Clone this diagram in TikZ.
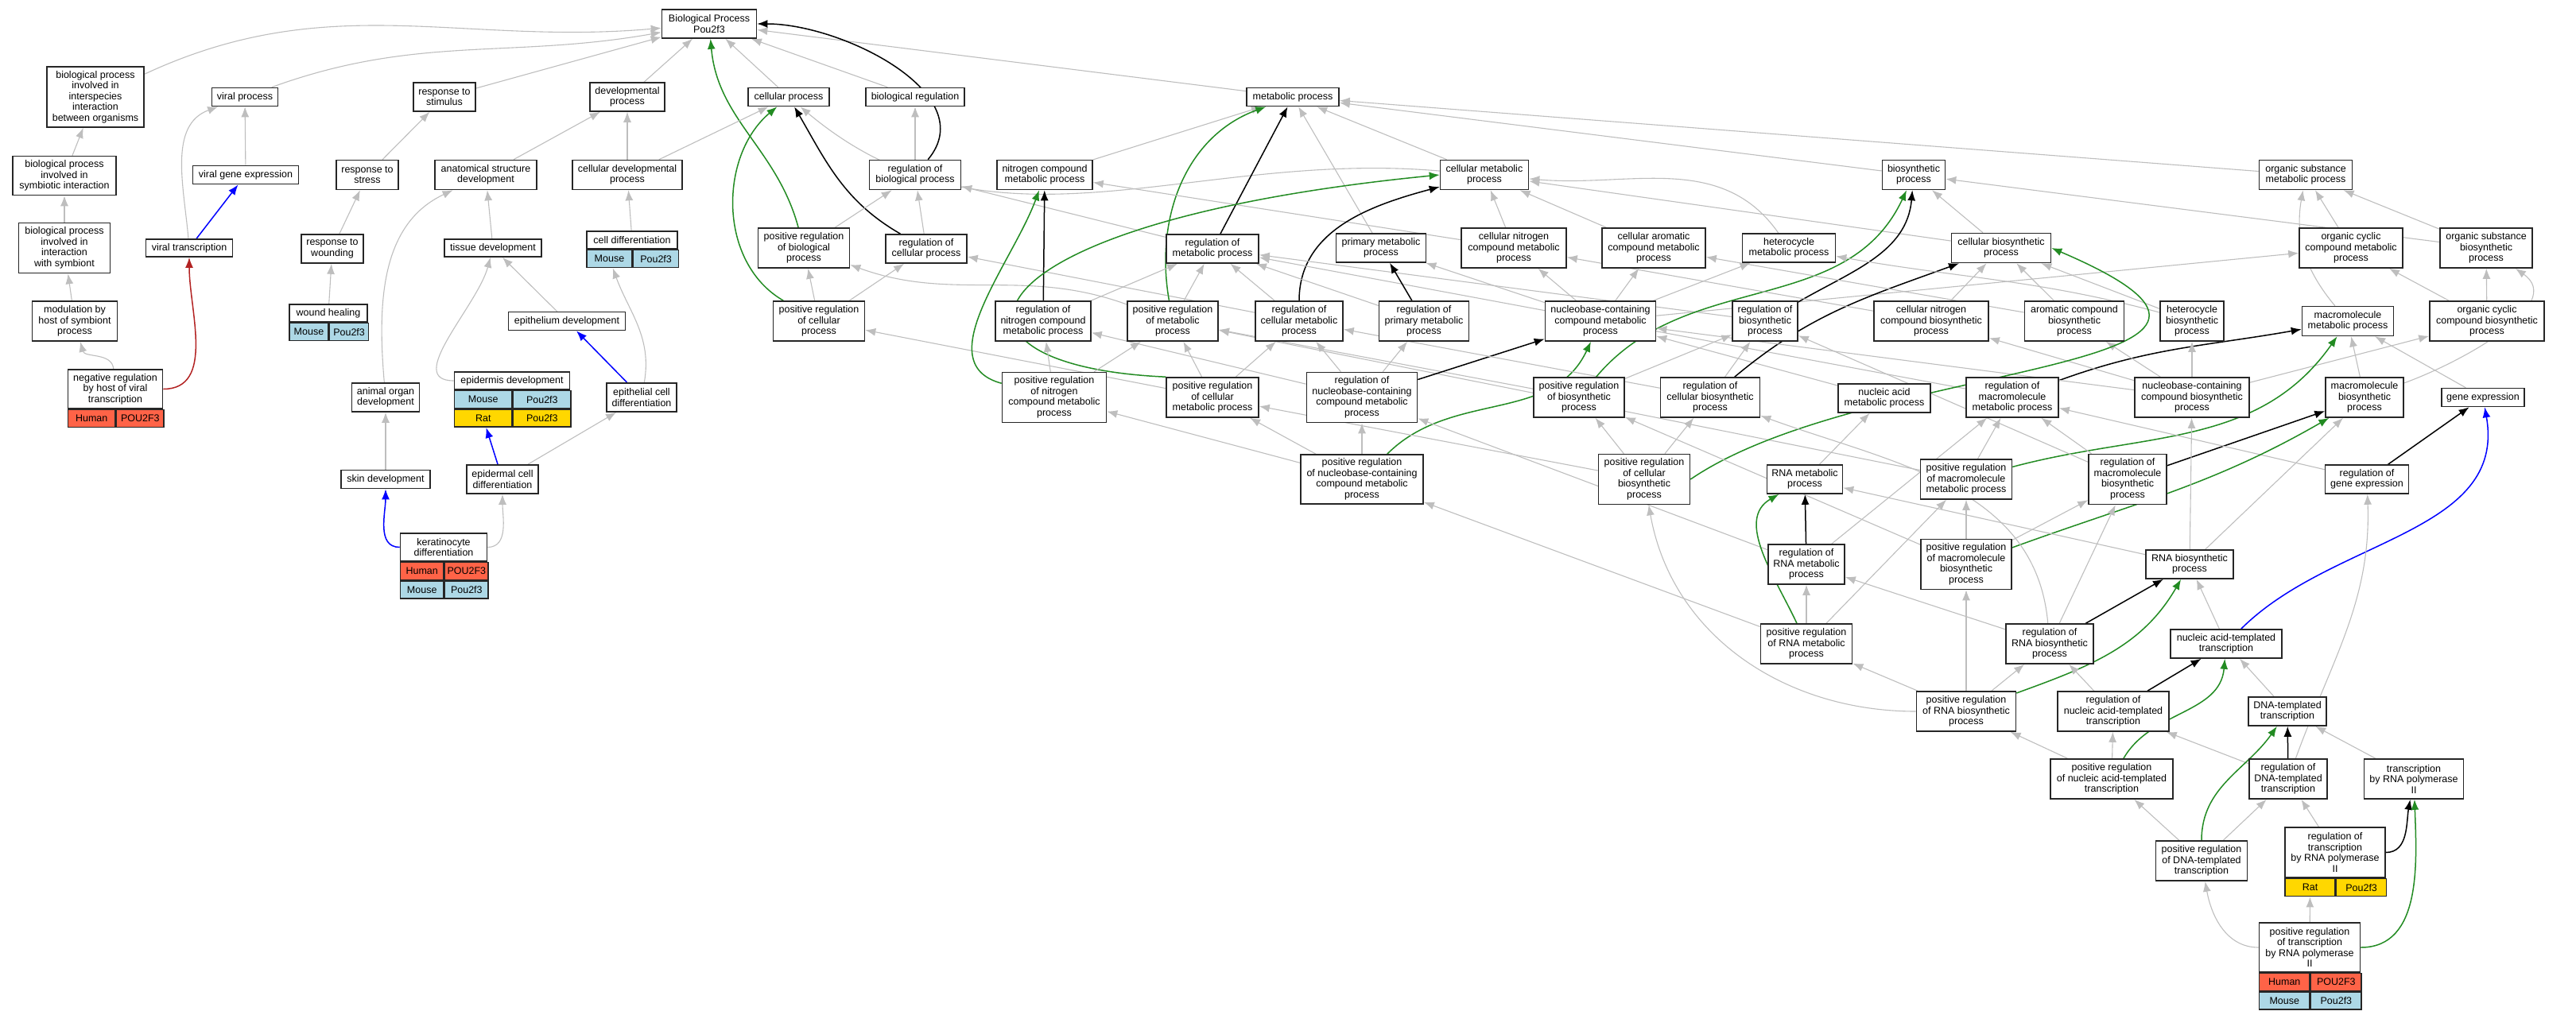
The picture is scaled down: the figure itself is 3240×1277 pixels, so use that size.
\documentclass[tikz,border=0pt]{standalone}
\usepackage{fontspec}
\setmainfont{Liberation Sans}
\usetikzlibrary{arrows.meta,backgrounds}
\definecolor{isagray}{RGB}{190,190,190}
\definecolor{posgreen}{RGB}{34,139,34}
\definecolor{negred}{RGB}{178,34,34}
\definecolor{human}{RGB}{255,99,71}
\definecolor{mouse}{RGB}{173,216,230}
\definecolor{rat}{RGB}{255,215,0}
\newcommand{\gofont}{\fontsize{12.5}{13.5}\selectfont}
\tikzset{
  term/.style={draw=black!85, line width=1.6pt, fill=white, align=center, inner sep=0pt, font=\gofont},
  box/.style 2 args={term, minimum width=#1, minimum height=#2},
  cell/.style={draw=black!85, line width=1.6pt, inner sep=0pt, minimum height=22, anchor=north west, font=\gofont},
  isa/.style={->, draw=isagray, line width=1.1pt},
  reg/.style={->, draw=black, line width=1.5pt},
  posreg/.style={->, draw=posgreen, line width=1.5pt},
  negedge/.style={->, draw=negred, line width=1.5pt},
  partedge/.style={->, draw=blue, line width=1.5pt}
}
\begin{document}
\begin{tikzpicture}[x=1pt, y=1pt, >={Latex[length=13pt,width=10pt]}]
\useasboundingbox (0,0) rectangle (3240,-1277);

\node[box={119}{36}] (BP) at (892,-30) {Biological Process\\Pou2f3};

\node[box={122}{76}] (bpi) at (120,-122) {biological process\\involved in\\interspecies\\interaction\\between organisms};
\node[box={83}{23}] (vp) at (308,-122) {viral process};
\node[box={78}{36}] (rstim) at (559,-122) {response to\\stimulus};
\node[box={94}{36}] (devp) at (789,-122) {developmental\\process};
\node[box={102}{23}] (cellp) at (992,-122) {cellular process};
\node[box={124}{23}] (bioreg) at (1151,-122) {biological regulation};
\node[box={116}{23}] (metp) at (1626,-122) {metabolic process};

\node[box={130}{49}] (bpsym) at (81,-221) {biological process\\involved in\\symbiotic interaction};
\node[box={133}{23}] (vge) at (309,-220) {viral gene expression};
\node[box={78}{37}] (rstress) at (462,-220) {response to\\stress};
\node[box={128}{37}] (asd) at (611,-220) {anatomical structure\\development};
\node[box={138}{37}] (cdp) at (789,-220) {cellular developmental\\process};
\node[box={115}{37}] (rbp) at (1151,-220) {regulation of\\biological process};
\node[box={120}{37}] (ncmp) at (1314,-220) {nitrogen compound\\metabolic process};
\node[box={111}{37}] (cmp) at (1867,-220) {cellular metabolic\\process};
\node[box={79}{37}] (biosp) at (2407,-220) {biosynthetic\\process};
\node[box={117}{37}] (osmp) at (2900,-220) {organic substance\\metabolic process};

\node[box={115}{63}] (bpint) at (81,-312) {biological process\\involved in\\interaction\\with symbiont};
\node[box={109}{22}] (vt) at (238,-312) {viral transcription};
\node[box={78}{36}] (rwound) at (418,-313) {response to\\wounding};
\node[box={122}{22}] (tissue) at (620,-312) {tissue development};
\node[box={114}{22}] (celldiff) at (795,-302) {cell differentiation};
\node[cell, fill=mouse, minimum width=57] (celldiff-m1) at (celldiff.south west) {Mouse};
\node[cell, fill=mouse, minimum width=57] (celldiff-m2) at (celldiff-m1.north east) {Pou2f3};
\node[box={115}{50}] (prbp) at (1011,-312) {positive regulation\\of biological\\process};
\node[box={102}{36}] (rcp) at (1165,-313) {regulation of\\cellular process};
\node[box={116}{36}] (rmp) at (1525,-313) {regulation of\\metabolic process};
\node[box={113}{36}] (pmp) at (1737,-312) {primary metabolic\\process};
\node[box={132}{50}] (cncmp) at (1904,-312) {cellular nitrogen\\compound metabolic\\process};
\node[box={130}{50}] (camp) at (2080,-312) {cellular aromatic\\compound metabolic\\process};
\node[box={117}{36}] (hmp) at (2250,-312) {heterocycle\\metabolic process};
\node[box={125}{37}] (cbp) at (2517,-312) {cellular biosynthetic\\process};
\node[box={130}{50}] (occmp) at (2957,-312) {organic cyclic\\compound metabolic\\process};
\node[box={116}{50}] (osbp) at (3127,-312) {organic substance\\biosynthetic\\process};

\node[box={107}{50}] (mod) at (94,-404) {modulation by\\host of symbiont\\process};
\node[box={98}{22}] (wound) at (413,-394) {wound healing};
\node[cell, fill=mouse, minimum width=49] (wound-m1) at (wound.south west) {Mouse};
\node[cell, fill=mouse, minimum width=49] (wound-m2) at (wound-m1.north east) {Pou2f3};
\node[box={147}{23}] (epith) at (713,-404) {epithelium development};
\node[box={115}{50}] (prcp) at (1030,-404) {positive regulation\\of cellular\\process};
\node[box={120}{50}] (rncmp) at (1312,-404) {regulation of\\nitrogen compound\\metabolic process};
\node[box={114}{50}] (prmp) at (1475,-404) {positive regulation\\of metabolic\\process};
\node[box={110}{50}] (rcmp) at (1634,-404) {regulation of\\cellular metabolic\\process};
\node[box={113}{50}] (rpmp) at (1791,-404) {regulation of\\primary metabolic\\process};
\node[box={139}{50}] (ncbmp) at (2013,-404) {nucleobase-containing\\compound metabolic\\process};
\node[box={82}{50}] (rbsp) at (2220,-404) {regulation of\\biosynthetic\\process};
\node[box={144}{50}] (cncbp) at (2429,-404) {cellular nitrogen\\compound biosynthetic\\process};
\node[box={125}{50}] (acbp) at (2609,-404) {aromatic compound\\biosynthetic\\process};
\node[box={80}{50}] (hbp) at (2757,-404) {heterocycle\\biosynthetic\\process};
\node[box={115}{37}] (mmp) at (2953,-404) {macromolecule\\metabolic process};
\node[box={144}{50}] (occbp) at (3128,-404) {organic cyclic\\compound biosynthetic\\process};

\node[box={119}{49}] (negreg) at (145,-489.5) {negative regulation\\by host of viral\\transcription};
\node[cell, fill=human, minimum width=59.5] (negreg-h1) at (negreg.south west) {Human};
\node[cell, fill=human, minimum width=59.5] (negreg-h2) at (negreg-h1.north east) {POU2F3};
\node[box={85}{36}] (aod) at (485,-500) {animal organ\\development};
\node[box={145}{22}] (epid) at (644,-479) {epidermis development};
\node[cell, fill=mouse, minimum width=72.5] (epid-m1) at (epid.south west) {Mouse};
\node[cell, fill=mouse, minimum width=72.5] (epid-m2) at (epid-m1.north east) {Pou2f3};
\node[cell, fill=rat, minimum width=72.5] (epid-r1) at (epid-m1.south west) {Rat};
\node[cell, fill=rat, minimum width=72.5] (epid-r2) at (epid-r1.north east) {Pou2f3};
\node[box={88}{36}] (ecd) at (807,-500) {epithelial cell\\differentiation};
\node[box={131}{63}] (prncmp) at (1326,-500) {positive regulation\\of nitrogen\\compound metabolic\\process};
\node[box={116}{50}] (prcmp) at (1525,-500) {positive regulation\\of cellular\\metabolic process};
\node[box={139}{63}] (rncbmp) at (1713,-500) {regulation of\\nucleobase-containing\\compound metabolic\\process};
\node[box={114}{50}] (prbsp) at (1986,-500) {positive regulation\\of biosynthetic\\process};
\node[box={125}{50}] (rcbp) at (2151,-500) {regulation of\\cellular biosynthetic\\process};
\node[box={116}{36}] (namp) at (2370,-501) {nucleic acid\\metabolic process};
\node[box={116}{50}] (rmmp) at (2531,-500) {regulation of\\macromolecule\\metabolic process};
\node[box={144}{50}] (ncbbp) at (2757,-500) {nucleobase-containing\\compound biosynthetic\\process};
\node[box={98}{50}] (mbp) at (2974,-500) {macromolecule\\biosynthetic\\process};
\node[box={104}{23}] (ge) at (3123,-500) {gene expression};

\node[box={112}{23}] (skin) at (485,-603) {skin development};
\node[box={90}{36}] (edc) at (632,-603) {epidermal cell\\differentiation};
\node[box={154}{62}] (prncbmp) at (1713,-603) {positive regulation\\of nucleobase-containing\\compound metabolic\\process};
\node[box={115}{63}] (prcbp) at (2068,-603) {positive regulation\\of cellular\\biosynthetic\\process};
\node[box={95}{36}] (rnamp) at (2270,-603) {RNA metabolic\\process};
\node[box={115}{50}] (prmmp) at (2473,-603) {positive regulation\\of macromolecule\\metabolic process};
\node[box={98}{63}] (rmbp) at (2676,-603) {regulation of\\macromolecule\\biosynthetic\\process};
\node[box={105}{36}] (rge) at (2977,-603) {regulation of\\gene expression};

\node[box={109}{35}] (kera) at (558,-688.5) {keratinocyte\\differentiation};
\node[cell, fill=human, minimum width=54.5] (kera-h1) at (kera.south west) {Human};
\node[cell, fill=human, minimum width=54.5] (kera-h2) at (kera-h1.north east) {POU2F3};
\node[cell, fill=mouse, minimum width=54.5] (kera-m1) at (kera-h1.south west) {Mouse};
\node[cell, fill=mouse, minimum width=54.5] (kera-m2) at (kera-m1.north east) {Pou2f3};
\node[box={96}{50}] (rrnamp) at (2272,-710) {regulation of\\RNA metabolic\\process};
\node[box={114}{63}] (prmbp) at (2473,-710) {positive regulation\\of macromolecule\\biosynthetic\\process};
\node[box={110}{36}] (rnabp) at (2754,-710) {RNA biosynthetic\\process};

\node[box={115}{50}] (prrnamp) at (2272,-810) {positive regulation\\of RNA metabolic\\process};
\node[box={110}{50}] (rrnabp) at (2578,-810) {regulation of\\RNA biosynthetic\\process};
\node[box={140}{36}] (nat) at (2800,-810) {nucleic acid-templated\\transcription};

\node[box={125}{50}] (prrnabp) at (2473,-895) {positive regulation\\of RNA biosynthetic\\process};
\node[box={140}{50}] (rnat) at (2658,-895) {regulation of\\nucleic acid-templated\\transcription};
\node[box={98}{36}] (dnat) at (2877,-895) {DNA-templated\\transcription};

\node[box={154}{50}] (prnat) at (2656,-980) {positive regulation\\of nucleic acid-templated\\transcription};
\node[box={98}{50}] (rdnat) at (2878,-980) {regulation of\\DNA-templated\\transcription};
\node[box={125}{50}] (trp2) at (3036,-980) {transcription\\by RNA polymerase\\II};

\node[box={115}{50}] (prdnat) at (2769,-1083) {positive regulation\\of DNA-templated\\transcription};
\node[box={126}{63}] (rtrp2) at (2937,-1072.5) {regulation of\\transcription\\by RNA polymerase\\II};
\node[cell, fill=rat, minimum width=63] (rtrp2-r1) at (rtrp2.south west) {Rat};
\node[cell, fill=rat, minimum width=63] (rtrp2-r2) at (rtrp2-r1.north east) {Pou2f3};

\node[box={127}{62}] (prtrp2) at (2905,-1192) {positive regulation\\of transcription\\by RNA polymerase\\II};
\node[cell, fill=human, minimum width=63.5] (prtrp2-h1) at (prtrp2.south west) {Human};
\node[cell, fill=human, minimum width=63.5] (prtrp2-h2) at (prtrp2-h1.north east) {POU2F3};
\node[cell, fill=mouse, minimum width=63.5] (prtrp2-m1) at (prtrp2-h1.south west) {Mouse};
\node[cell, fill=mouse, minimum width=63.5] (prtrp2-m2) at (prtrp2-m1.north east) {Pou2f3};

\begin{pgfonlayer}{background}
\draw[isa] (bpi) to[out=25,in=185] (BP);
\draw[isa] (vp) to[out=20,in=190] (BP);
\draw[isa] (rstim) -- (BP);
\draw[isa] (devp) -- (BP);
\draw[isa] (cellp) -- (BP);
\draw[isa] (bioreg) -- (BP);
\draw[isa] (metp) -- (BP);
\draw[reg] (rbp) to[out=50,in=0] (BP);
\draw[posreg] (prbp) to[out=105,in=-85] (BP);

\draw[isa] (bpsym) -- (bpi);
\draw[isa] (bpint) -- (bpsym);
\draw[isa] (mod) -- (bpint);
\draw[isa] (negreg) to[out=95,in=-75] (mod);
\draw[negedge] (negreg) to[out=0,in=-90] (vt);
\draw[isa] (vge) -- (vp);
\draw[isa] (vt) to[out=95,in=-160] (vp);
\draw[partedge] (vt) -- (vge);
\draw[isa] (rstress) -- (rstim);
\draw[isa] (rwound) -- (rstress);
\draw[isa] (wound) -- (rwound);
\draw[isa] (asd) -- (devp);
\draw[isa] (cdp) -- (devp);
\draw[isa] (tissue) -- (asd);
\draw[isa] (aod) to[out=95,in=-155] (asd);
\draw[isa] (epith) -- (tissue);
\draw[isa] (epid) to[out=180,in=-105] (tissue);
\draw[isa] (celldiff) -- (cdp);
\draw[partedge] (ecd) -- (epith);
\draw[isa] (ecd) to[out=80,in=-70] (celldiff-m1);
\draw[isa] (skin) -- (aod);
\draw[partedge] (edc) -- (epid-r1);
\draw[isa] (edc) -- (ecd);
\draw[partedge] (kera) to[out=180,in=-90] (skin);
\draw[isa] (kera) to[out=0,in=-90] (edc);

\draw[isa] (cdp) -- (cellp);
\draw[isa] (cmp) to[out=175,in=-40] (cellp);
\draw[reg] (rcp) to[out=150,in=-60] (cellp);
\draw[posreg] (prcp) to[out=150,in=-140] (cellp);
\draw[isa] (rbp) -- (bioreg);
\draw[isa] (prbp) -- (rbp);
\draw[isa] (rcp) -- (rbp);
\draw[isa] (rmp) -- (rbp);
\draw[isa] (prcp) -- (prbp);
\draw[isa] (prcp) -- (rcp);
\draw[isa] (prmp) to[out=160,in=-20] (prbp);
\draw[isa] (rcmp) -- (rcp);
\draw[isa] (prcmp) -- (prcp);

\draw[isa] (ncmp) -- (metp);
\draw[isa] (cmp) -- (metp);
\draw[isa] (pmp) -- (metp);
\draw[isa] (biosp) -- (metp);
\draw[isa] (osmp) -- (metp);
\draw[reg] (rmp) -- (metp);
\draw[posreg] (prmp) to[out=100,in=-160] (metp);
\draw[isa] (cncmp) -- (ncmp);
\draw[reg] (rncmp) -- (ncmp);
\draw[posreg] (prncmp) to[out=165,in=-110] (ncmp);
\draw[isa] (cncmp) -- (cmp);
\draw[isa] (camp) -- (cmp);
\draw[isa] (hmp) to[out=125,in=-5] (cmp);
\draw[isa] (cbp) -- (cmp);
\draw[reg] (rcmp) to[out=90,in=195] (cmp);
\draw[posreg] (prcmp.north west) .. controls (1150,-460) and (1200,-280) .. (cmp.west);

\draw[isa] (rncmp) -- (rmp);
\draw[isa] (prmp) -- (rmp);
\draw[isa] (rcmp) -- (rmp);
\draw[isa] (rpmp) -- (rmp);
\draw[isa] (rbsp) -- (rmp);
\draw[isa] (rmmp) -- (rmp);
\draw[reg] (rpmp) -- (pmp);
\draw[isa] (ncbmp) -- (pmp);
\draw[isa] (prncmp) -- (rncmp);
\draw[isa] (prncmp) -- (prmp);
\draw[isa] (prcmp) -- (prmp);
\draw[isa] (prcmp) -- (rcmp);
\draw[isa] (prbsp) -- (prmp);
\draw[isa] (prmmp) -- (prmp);
\draw[isa] (rncbmp) -- (rncmp);
\draw[isa] (rncbmp) -- (rcmp);
\draw[isa] (rncbmp) -- (rpmp);
\draw[reg] (rncbmp) -- (ncbmp);
\draw[isa] (prncbmp) -- (rncbmp);
\draw[isa] (prncbmp) -- (prcmp);
\draw[isa] (prncbmp) -- (prncmp);
\draw[posreg] (prncbmp) to[out=45,in=-115] (ncbmp);

\draw[isa] (ncbmp) -- (cncmp);
\draw[isa] (ncbmp) -- (camp);
\draw[isa] (ncbmp) -- (hmp);
\draw[isa] (ncbmp) -- (occmp);
\draw[isa] (namp) -- (ncbmp);
\draw[isa] (rcbp) -- (rbsp);
\draw[isa] (rcbp) -- (rcmp);
\draw[reg] (rcbp) to[out=40,in=-160] (cbp);
\draw[isa] (prbsp) -- (rbsp);
\draw[reg] (rbsp) to[out=30,in=-95] (biosp);
\draw[posreg] (prbsp) to[out=50,in=-115] (biosp);
\draw[isa] (cbp) -- (biosp);
\draw[isa] (osbp) -- (biosp);
\draw[isa] (osbp) -- (osmp);
\draw[isa] (occmp) -- (osmp);
\draw[isa] (mmp) to[out=130,in=-100] (osmp);
\draw[isa] (cncbp) -- (cncmp);
\draw[isa] (cncbp) -- (cbp);
\draw[isa] (acbp) -- (cbp);
\draw[isa] (acbp) -- (camp);
\draw[isa] (hbp) -- (cbp);
\draw[isa] (hbp) to[out=165,in=-10] (hmp);
\draw[isa] (occbp) -- (occmp);
\draw[isa] (occbp) -- (osbp);
\draw[isa] (mbp) -- (mmp);
\draw[isa] (mbp) to[out=20,in=-35] (osbp);
\draw[isa] (ge) -- (mmp);
\draw[reg] (rmmp) to[out=20,in=190] (mmp);
\draw[isa] (ncbbp) -- (ncbmp);
\draw[isa] (ncbbp) -- (cncbp);
\draw[isa] (ncbbp) -- (acbp);
\draw[isa] (ncbbp) -- (hbp);
\draw[isa] (ncbbp) -- (occbp);

\draw[isa] (prcbp) -- (prbsp);
\draw[isa] (prcbp) -- (rcbp);
\draw[isa] (prcbp) -- (prcmp);
\draw[posreg] (prcbp.east) .. controls (2350,-450) and (2950,-470) .. (cbp.east);
\draw[isa] (rnamp) -- (namp);
\draw[reg] (rrnamp) -- (rnamp);
\draw[isa] (rrnamp) -- (rncbmp);
\draw[isa] (rrnamp) -- (rmmp);
\draw[isa] (prrnamp) -- (rrnamp);
\draw[posreg] (prrnamp) to[out=115,in=-150] (rnamp);
\draw[isa] (prrnamp) -- (prncbmp);
\draw[isa] (prrnamp) -- (prmmp);
\draw[isa] (prmmp) -- (rmmp);
\draw[posreg] (prmmp) to[out=15,in=-125] (mmp);
\draw[isa] (rmbp) -- (rmmp);
\draw[isa] (rmbp) -- (rbsp);
\draw[reg] (rmbp) -- (mbp);
\draw[isa] (rge) -- (rmmp);
\draw[reg] (rge) -- (ge);
\draw[isa] (prmbp) -- (prmmp);
\draw[isa] (prmbp) -- (rmbp);
\draw[isa] (prmbp) -- (prbsp);
\draw[posreg] (prmbp) to[out=20,in=-150] (mbp);
\draw[isa] (rnabp) -- (rnamp);
\draw[isa] (rnabp) -- (ncbbp);
\draw[isa] (rnabp) -- (mbp);

\draw[reg] (rrnabp) -- (rnabp);
\draw[isa] (rrnabp) -- (rrnamp);
\draw[isa] (rrnabp) -- (rmbp);
\draw[isa] (rrnabp) to[out=95,in=-20] (rcbp);
\draw[isa] (prrnabp) -- (prmbp);
\draw[isa] (prrnabp) -- (rrnabp);
\draw[isa] (prrnabp) -- (prrnamp);
\draw[isa] (prrnabp) to[out=180,in=-80] (prcbp);
\draw[posreg] (prrnabp) to[out=20,in=-120] (rnabp);
\draw[isa] (nat) -- (rnabp);
\draw[partedge] (nat) to[out=45,in=-80] (ge);
\draw[reg] (rnat) -- (nat);
\draw[isa] (rnat) -- (rrnabp);
\draw[isa] (dnat) -- (nat);
\draw[isa] (prnat) -- (rnat);
\draw[isa] (prnat) -- (prrnabp);
\draw[posreg] (prnat) to[out=60,in=-95] (nat);
\draw[reg] (rdnat) -- (dnat);
\draw[isa] (rdnat) -- (rnat);
\draw[isa] (rdnat) to[out=70,in=-88] (rge);
\draw[isa] (trp2) -- (dnat);
\draw[isa] (prdnat) -- (prnat);
\draw[isa] (prdnat) -- (rdnat);
\draw[posreg] (prdnat) to[out=90,in=-125] (dnat);
\draw[isa] (rtrp2) -- (rdnat);
\draw[reg] (rtrp2) to[out=0,in=-100] (trp2);
\draw[isa] (prtrp2) to[out=180,in=-80] (prdnat);
\draw[isa] (prtrp2) -- (rtrp2-r1);
\draw[posreg] (prtrp2) to[out=0,in=-88] (trp2);
\end{pgfonlayer}
\end{tikzpicture}
\end{document}
